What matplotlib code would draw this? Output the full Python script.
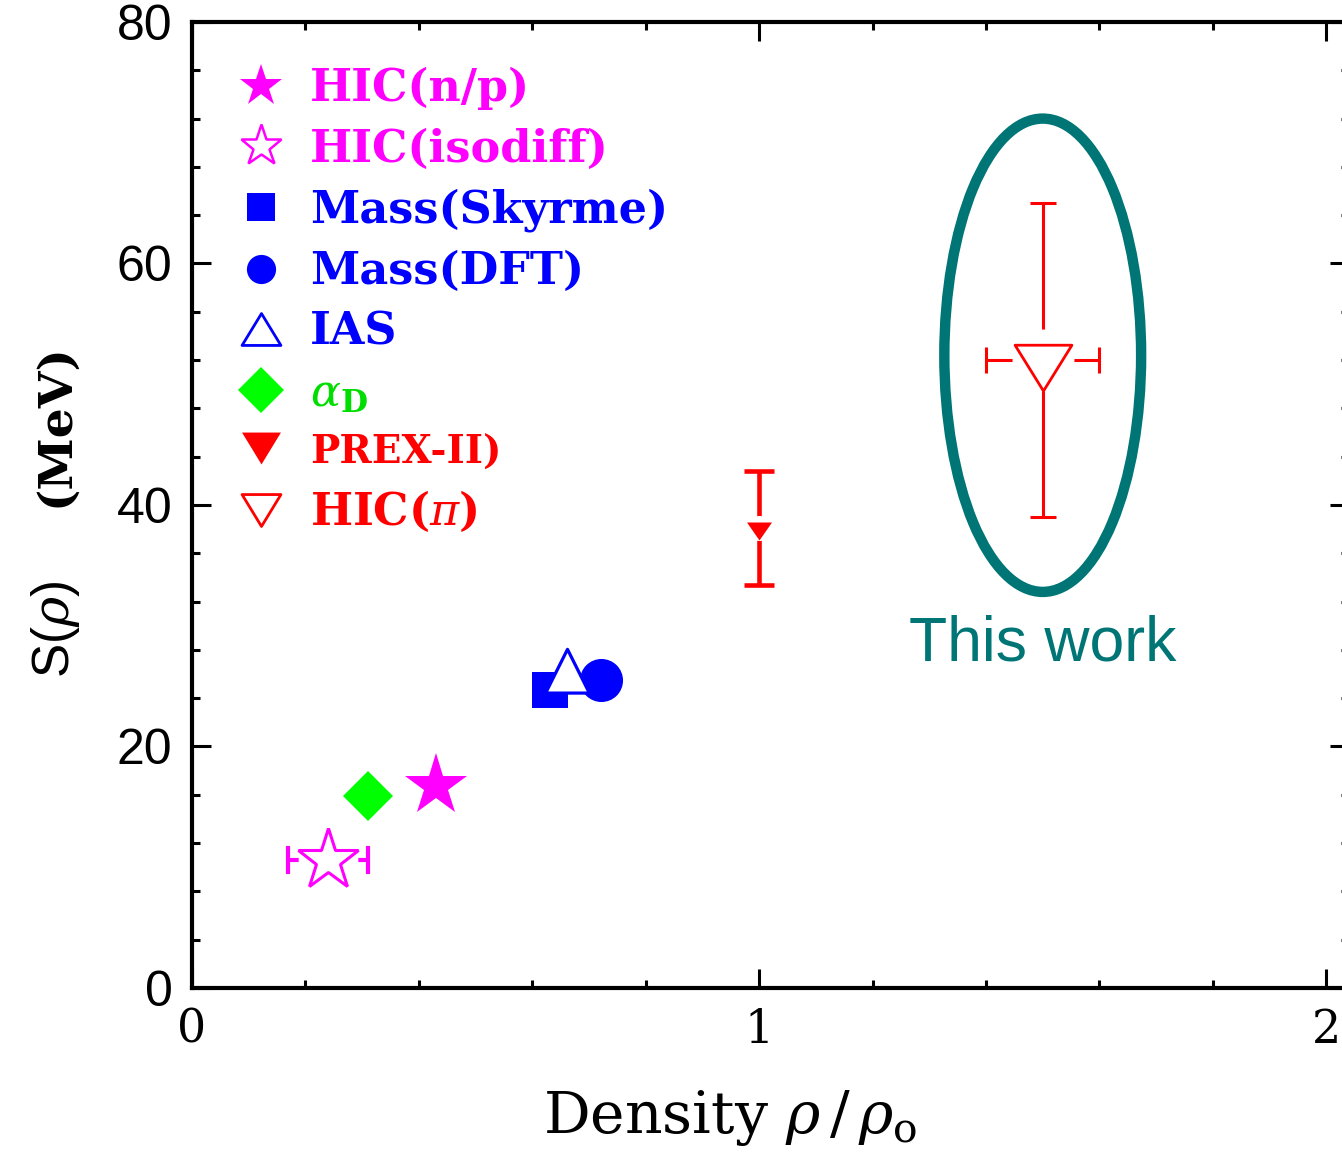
import matplotlib
matplotlib.use('Agg')
import matplotlib.pyplot as plt
from matplotlib.lines import Line2D
from matplotlib.patches import Ellipse
from matplotlib.path import Path
from matplotlib.ticker import MultipleLocator

plt.rcParams['mathtext.fontset'] = 'dejavuserif'

# values: density in rho/rho0, symmetry energy S in MeV
labels = ['HIC(n/p)', 'HIC(isodiff)', 'Mass(Skyrme)', 'Mass(DFT)', 'IAS',
          r'$\alpha_{\mathbf{D}}$', 'PREX-II)', r'HIC($\pi$)']
dens = [0.43, 0.24, 0.631, 0.721, 0.661, 0.31, 1.0, 1.5]
sym = [16.7, 10.6, 24.7, 25.5, 25.7, 15.9, 38.1, 52.0]
dens_err = [0, 0.07, 0, 0, 0, 0, 0, 0.1]
sym_err = [0, 0, 0, 0, 0, 0, 4.7, 13.0]

colors = ['#ff00ff', '#ff00ff', '#0000ff', '#0000ff', '#0000ff', '#00ff00', '#ff0000', '#ff0000']
text_colors = ['#ff00ff', '#ff00ff', '#0000ff', '#0000ff', '#0000ff', '#00dd00', '#ff0000', '#ff0000']
teal = '#007575'

# triangles centred on their centroid, like the original plotting symbols
tri_up = Path([(0, 1), (-0.75, -0.5), (0.75, -0.5), (0, 1)], closed=True)
tri_dn_big = Path([(-0.93, 0.5), (0.93, 0.5), (0, -1), (-0.93, 0.5)], closed=True)
tri_dn_small = Path([(-1, 0.48), (1, 0.48), (0, -0.96), (-1, 0.48)], closed=True)
leg_up = Path([(0, 0.82), (-1, -0.82), (1, -0.82), (0, 0.82)], closed=True)
leg_dn = Path([(-1, 0.82), (1, 0.82), (0, -0.82), (-1, 0.82)], closed=True)

fig = plt.figure(figsize=(13.42, 11.52), dpi=100)
ax = fig.add_axes([0.1431, 0.1424, 0.8621, 0.8385])

# plot symbols: (marker, size, filled, edge width)
mk = [('*', 47, True, 0), ('*', 46, False, 2.2), ('s', 26.5, True, 0), ('o', 31, True, 0),
      (tri_up, 42, False, 2.3), ('D', 25.5, True, 0), (tri_dn_small, 18, True, 0),
      (tri_dn_big, 44, False, 2.0)]
gap = [0, 43, 0, 0, 0, 0, 18, 44.6]
lw_err = [0, 3.0, 0, 0, 0, 0, 3.3, 2.2]
caps = [0, 10, 0, 0, 0, 0, 11, 9.7]

for i in range(len(dens)):
    m, ms, filled, mew = mk[i]
    c = colors[i]
    if dens_err[i] or sym_err[i]:
        ax.errorbar(dens[i], sym[i],
                    xerr=dens_err[i] if dens_err[i] else None,
                    yerr=sym_err[i] if sym_err[i] else None,
                    fmt='none', ecolor=c, elinewidth=lw_err[i],
                    capsize=caps[i], capthick=lw_err[i], zorder=2)
        # white disc so that the bars stop short of the symbol
        ax.plot(dens[i], sym[i], 'o', ms=gap[i], mfc='white', mec='none', zorder=3)
    ax.plot(dens[i], sym[i], marker=m, ls='none', ms=ms,
            mfc=c if filled else 'white', mec=c, mew=mew, zorder=4)

# ellipse around this work
ax.add_patch(Ellipse((dens[-1], sym[-1] + 0.4), 0.347, 39.2, fill=False, lw=7.5, ec=teal, zorder=5))
ax.text(dens[-1], 28.5, 'This work', color=teal, fontsize=45, family='Liberation Sans',
        ha='center', va='center')

# legend
leg_mk = [('*', 32, True, 0), ('*', 31, False, 1.8), ('s', 20, True, 0), ('o', 21, True, 0),
          (leg_up, 28, False, 2.0), ('D', 23, True, 0), (leg_dn, 28, True, 0),
          (leg_dn, 28, False, 2.0)]
handles = []
for i in range(len(labels)):
    m, ms, filled, mew = leg_mk[i]
    handles.append(Line2D([], [], marker=m, ls='none', ms=ms, mec=colors[i],
                          mfc=colors[i] if filled else 'white', mew=mew))
leg = ax.legend(handles, labels, loc='upper left', bbox_to_anchor=(0.0405, 0.9535),
                frameon=False, borderpad=0, borderaxespad=0, handlelength=1.0,
                handletextpad=0.6, labelspacing=0.40,
                prop={'family': 'DejaVu Serif', 'weight': 'bold', 'size': 32})
for t, c in zip(leg.get_texts(), text_colors):
    t.set_color(c)
leg.get_texts()[6].set_fontsize(28)

# axes
ax.set_xlim(0, 2.04)
ax.set_ylim(0, 80)
ax.xaxis.set_major_locator(MultipleLocator(1))
ax.xaxis.set_minor_locator(MultipleLocator(0.2))
ax.yaxis.set_major_locator(MultipleLocator(20))
ax.yaxis.set_minor_locator(MultipleLocator(4))
ax.tick_params(which='both', direction='in', top=True, right=True, width=2.2, pad=14)
ax.tick_params(which='major', length=14)
ax.tick_params(which='minor', length=6)
for s in ax.spines.values():
    s.set_linewidth(3)
for lab in ax.get_yticklabels():
    lab.set_family('Liberation Sans')
    lab.set_fontsize(36)
for lab in ax.get_xticklabels():
    lab.set_family('DejaVu Serif')
    lab.set_fontsize(33)

ax.text(0.465, -0.150, r'Density $\rho\,/\,\rho_{\rm o}$', transform=ax.transAxes,
        ha='center', va='baseline', fontsize=42, family='DejaVu Serif')
ax.text(-0.118, 0.371, r'S($\rho$)', transform=ax.transAxes, rotation=90,
        ha='center', va='center', fontsize=37, family='Liberation Sans')
ax.text(-0.118, 0.583, '(MeV)', transform=ax.transAxes, rotation=90,
        ha='center', va='center', fontsize=34, family='DejaVu Serif', weight='bold')

plt.savefig('out.png', dpi=100)
